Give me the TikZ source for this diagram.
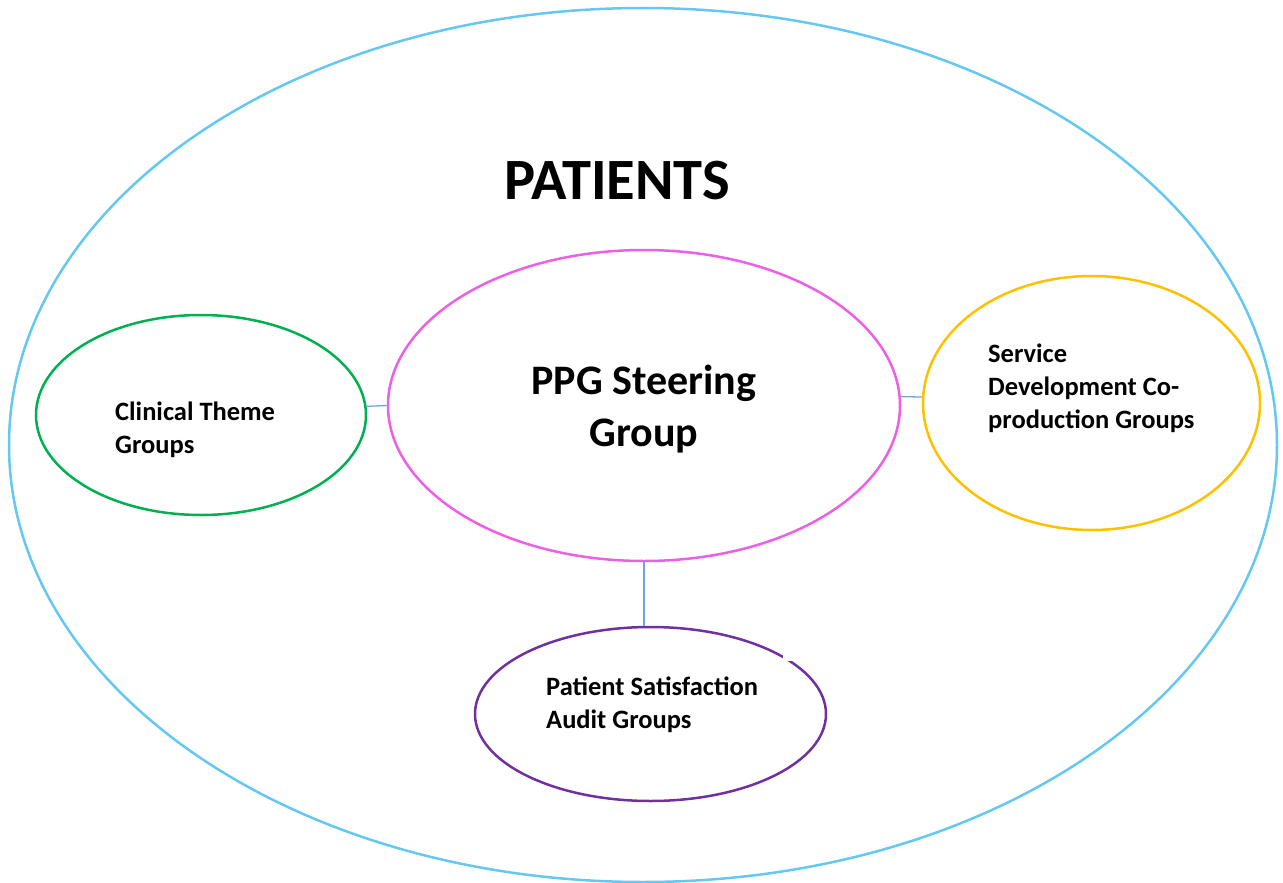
\documentclass[tikz,border=0pt]{standalone}
\usepackage{fontspec}
\setmainfont{Carlito}
\usetikzlibrary{shapes.geometric}
\definecolor{skyring}{RGB}{100,200,242}
\definecolor{pinkring}{RGB}{234,96,230}
\definecolor{greenring}{RGB}{0,176,80}
\definecolor{amberring}{RGB}{255,192,0}
\definecolor{purplering}{RGB}{112,48,160}
\definecolor{linkblue}{RGB}{110,165,220}

\begin{document}
\begin{tikzpicture}[x=1pt, y=-1pt,
		ring/.style={ellipse, draw, line width=2.5pt, inner sep=0pt},
		link/.style={draw=linkblue, line width=1.3pt},
		grouptext/.style={align=left, anchor=west, inner sep=0pt, font=\fontsize{26.5}{33}\selectfont\bfseries}]
	\useasboundingbox (0, 0) rectangle (1283, 883);

	\node[ring, draw=skyring, minimum width=1268pt, minimum height=874pt] (patients) at (643, 445) {};
	\node[font=\fontsize{58.5}{64}\selectfont\bfseries] (title) at (617, 181) {PATIENTS};

	\node[ring, draw=pinkring, minimum width=512pt, minimum height=311pt] (ppg) at (644, 405.5) {};
	\node[align=center, font=\fontsize{42}{52}\selectfont\bfseries] (ppgtext) at (644, 409) {PPG Steering\\Group};

	\node[ring, draw=greenring, minimum width=330pt, minimum height=200pt] (clin) at (201, 415) {};
	\node[grouptext] (clintext) at (115, 430) {Clinical Theme\\Groups};

	\node[ring, draw=amberring, minimum width=337pt, minimum height=254pt] (svc) at (1091.5, 403) {};
	\node[grouptext] (svctext) at (988, 388) {Service\\Development Co-\\production Groups};

	\node[ring, draw=purplering, minimum width=351pt, minimum height=174pt] (sat) at (650.5, 714) {};
	\node[grouptext] (sattext) at (546, 705) {Patient Satisfaction\\Audit Groups};
	\fill[white] (783, 652) rectangle (792, 661);

	\draw[link] (clin.3) -- (ppg.180);
	\draw[link] (ppg.2) -- (svc.178);
	\draw[link] (ppg.south) -- (ppg.south |- sat.north);
\end{tikzpicture}
\end{document}
